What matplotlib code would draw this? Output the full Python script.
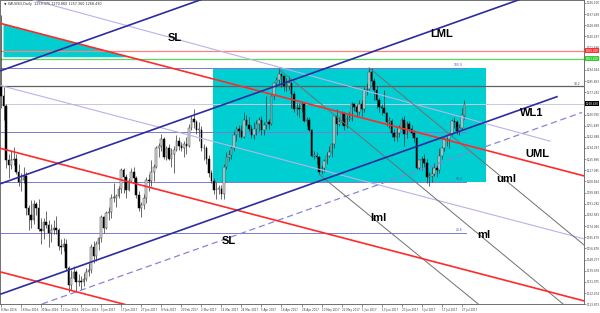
import numpy as np
import matplotlib
matplotlib.use("Agg")
import matplotlib.pyplot as plt
from matplotlib.patches import Rectangle, Polygon
import matplotlib.transforms as mtransforms

# ---------------- data (XAUUSD daily, bar 0 = 8 Nov 2016) ----------------
opens = [1281, 1274, 1267, 1225, 1221, 1225, 1226, 1216, 1208, 1210, 1213, 1188, 1183, 1179, 1191, 1188, 1172,
         1170, 1177, 1175, 1169, 1171, 1173, 1171, 1159, 1158, 1160, 1142, 1129, 1134, 1139, 1131, 1132, 1131, 1133, 1139, 1140, 1158,
         1151, 1160, 1165, 1181, 1173, 1184, 1185, 1196, 1196, 1197, 1203, 1217, 1212, 1202, 1209, 1216, 1211, 1198, 1188, 1190, 1196,
         1210, 1209, 1216, 1220, 1234, 1236, 1241, 1227, 1234, 1226, 1230, 1233, 1240, 1236, 1234, 1237, 1236, 1250, 1257, 1254,
         1248, 1248, 1234, 1234, 1226, 1215, 1209, 1202, 1203, 1203, 1199, 1220, 1227, 1229, 1234, 1244, 1249, 1247, 1243, 1256, 1252, 1249, 1244,
         1249, 1253, 1256, 1248, 1252, 1254, 1253, 1274, 1284, 1287, 1291, 1290, 1282, 1282, 1284, 1276, 1264, 1265, 1264,
         1268, 1255, 1256, 1248, 1228, 1228, 1227, 1216, 1219, 1224, 1228, 1231, 1237, 1259, 1253, 1254, 1261, 1251, 1257, 1257, 1268, 1266, 1262,
         1268, 1264, 1279, 1280, 1293, 1286, 1279, 1271, 1266, 1265, 1261, 1254, 1255, 1246, 1243, 1246, 1250, 1256, 1245, 1253, 1249, 1246,
         1242, 1219, 1225, 1226, 1223, 1212, 1213, 1214, 1219, 1217, 1228, 1234, 1241, 1241, 1245, 1255, 1254, 1247, 1250, 1259]
highs = [1337, 1281, 1268, 1230, 1232, 1235, 1230, 1222, 1215, 1220, 1216, 1190, 1194, 1194, 1193, 1195, 1180,
         1180, 1186, 1179, 1176, 1179, 1182, 1173, 1164, 1165, 1164, 1143, 1140, 1143, 1140, 1137, 1136, 1138, 1142, 1146, 1160, 1163,
         1163, 1166, 1183, 1182, 1186, 1189, 1199, 1207, 1199, 1205, 1219, 1219, 1214, 1211, 1219, 1220, 1213, 1201, 1193, 1199, 1212,
         1214, 1225, 1222, 1236, 1238, 1245, 1243, 1236, 1237, 1234, 1236, 1244, 1243, 1239, 1240, 1243, 1253, 1259, 1264, 1256,
         1254, 1251, 1237, 1236, 1229, 1217, 1211, 1208, 1206, 1206, 1222, 1231, 1233, 1236, 1247, 1251, 1252, 1252, 1262, 1260, 1258, 1252, 1254,
         1256, 1258, 1259, 1254, 1274, 1257, 1275, 1285, 1289, 1296, 1292, 1290, 1288, 1290, 1285, 1278, 1269, 1269, 1270,
         1270, 1258, 1258, 1249, 1232, 1231, 1228, 1221, 1226, 1231, 1236, 1238, 1260, 1264, 1258, 1263, 1262, 1260, 1262, 1270, 1269, 1268, 1271,
         1271, 1281, 1284, 1296, 1296, 1288, 1282, 1273, 1268, 1279, 1262, 1258, 1257, 1249, 1250, 1252, 1258, 1259, 1255, 1255, 1252, 1248,
         1243, 1225, 1228, 1230, 1226, 1216, 1220, 1223, 1221, 1234, 1235, 1243, 1243, 1246, 1257, 1258, 1256, 1253, 1265, 1271]
lows = [1265, 1256, 1219, 1211, 1218, 1221, 1214, 1205, 1201, 1207, 1183, 1171, 1173, 1176, 1183, 1170, 1160,
        1164, 1173, 1158, 1162, 1168, 1168, 1156, 1153, 1155, 1140, 1123, 1125, 1133, 1124, 1128, 1125, 1128, 1132, 1136, 1138, 1146,
        1147, 1156, 1162, 1169, 1172, 1179, 1180, 1193, 1189, 1196, 1200, 1200, 1196, 1201, 1208, 1208, 1196, 1186, 1181, 1187, 1192,
        1201, 1205, 1209, 1219, 1227, 1232, 1226, 1225, 1225, 1220, 1215, 1232, 1233, 1232, 1227, 1230, 1235, 1248, 1250, 1245,
        1240, 1232, 1225, 1222, 1212, 1207, 1199, 1195, 1199, 1195, 1195, 1218, 1224, 1226, 1232, 1240, 1243, 1242, 1242, 1251, 1247, 1242, 1241,
        1244, 1247, 1244, 1244, 1249, 1249, 1252, 1271, 1281, 1283, 1281, 1278, 1278, 1279, 1265, 1262, 1260, 1258, 1262,
        1254, 1251, 1247, 1227, 1226, 1222, 1214, 1214, 1216, 1222, 1227, 1227, 1234, 1244, 1251, 1252, 1248, 1250, 1255, 1255, 1263, 1258, 1260,
        1259, 1262, 1275, 1279, 1282, 1271, 1265, 1262, 1260, 1261, 1251, 1250, 1243, 1240, 1240, 1243, 1248, 1236, 1242, 1247, 1244, 1239,
        1218, 1217, 1217, 1220, 1207, 1205, 1208, 1213, 1212, 1215, 1226, 1232, 1236, 1234, 1244, 1250, 1245, 1244, 1248, 1257]
closes = [1274, 1267, 1225, 1221, 1225, 1226, 1216, 1208, 1210, 1213, 1188, 1183, 1179, 1191, 1188, 1172, 1170,
          1177, 1175, 1169, 1171, 1173, 1171, 1159, 1158, 1160, 1142, 1129, 1134, 1139, 1131, 1132, 1131, 1133, 1139, 1140, 1158, 1151,
          1160, 1165, 1181, 1173, 1184, 1185, 1196, 1196, 1197, 1203, 1217, 1212, 1202, 1209, 1216, 1211, 1198, 1188, 1190, 1196, 1210,
          1209, 1216, 1220, 1234, 1236, 1241, 1227, 1234, 1226, 1230, 1233, 1240, 1236, 1234, 1237, 1236, 1250, 1257, 1254, 1248,
          1248, 1234, 1234, 1226, 1215, 1209, 1202, 1203, 1203, 1199, 1220, 1227, 1229, 1234, 1244, 1249, 1247, 1243, 1256, 1252, 1249, 1244, 1249,
          1253, 1256, 1248, 1252, 1254, 1253, 1274, 1284, 1287, 1291, 1290, 1282, 1282, 1284, 1276, 1264, 1265, 1264, 1268,
          1255, 1256, 1248, 1228, 1228, 1227, 1216, 1219, 1224, 1228, 1231, 1237, 1259, 1253, 1254, 1261, 1251, 1257, 1257, 1268, 1266, 1262, 1268,
          1264, 1279, 1280, 1293, 1286, 1279, 1271, 1266, 1265, 1261, 1254, 1255, 1246, 1243, 1246, 1250, 1256, 1245, 1253, 1249, 1246, 1242,
          1219, 1225, 1226, 1223, 1212, 1213, 1214, 1219, 1217, 1228, 1234, 1241, 1241, 1245, 1255, 1254, 1247, 1250, 1260, 1268.4]

date_labels = ["8 Nov 2016", "18 Nov 2016", "30 Nov 2016", "12 Dec 2016", "22 Dec 2016", "5 Jan 2017",
               "17 Jan 2017", "27 Jan 2017", "8 Feb 2017", "20 Feb 2017", "2 Mar 2017", "14 Mar 2017",
               "24 Mar 2017", "5 Apr 2017", "18 Apr 2017", "28 Apr 2017", "10 May 2017", "22 May 2017",
               "1 Jun 2017", "13 Jun 2017", "23 Jun 2017", "5 Jul 2017", "17 Jul 2017", "27 Jul 2017"]
date_bars = [0, 8, 16, 24, 32, 40, 48, 56, 64, 72, 80, 88, 96, 104, 112, 120, 128, 136, 144, 152, 160, 168, 176, 184]

# trend lines: (bar0, price0, bar1, price1)
red_lines = [(0, 1330.2, 233, 1212.7), (0, 1233.9, 233, 1116.4), (0, 1138.7, 233, 1021.2)]
blue_lines = [(0, 1293.9, 233, 1453.4), (0, 1206.9, 233, 1366.4), (0, 1121.8, 222, 1273.8)]
dashed_line = (16.4, 1114.1, 232, 1261.7)
purple_lines = [(12.8, 1348.3, 219.2, 1239.6), (0, 1282.3, 232.8, 1164.3)]
gray_lines = [(147, 1296.0, 232.8, 1159.6), (111, 1295.0, 224.4, 1114.2), (127, 1214.0, 190.5, 1114.2)]

red_level = 1309.3
green_level = 1303.1
gray_level = 1281.8
bid = 1268.43
fibo_levels = [1296.0, 1246.9, 1208.2, 1168.9]
fibo_names = ["100.0", "61.8", "50.0", "23.6"]
fibo_end = 185.7

box_bars = (84.7, 193.7)
box_prices = (1208.2, 1296.0)
tri_pts = [(1, 1329.7), (51.6, 1304.2), (1, 1304.2)]

tags = [("SL", 69.5, 1319.0), ("LML", 176.1, 1322.1), ("WL1", 212.1, 1261.3), ("UML", 214.1, 1229.7),
        ("uml", 201.7, 1210.5), ("ml", 192.9, 1167.4), ("lml", 150.6, 1180.4), ("SL", 91.1, 1162.7)]

price_ticks = np.arange(1346.100, 1110, -8.601)

# ---------------- plot ----------------
fig = plt.figure(figsize=(6, 3.13), dpi=100)
ax = fig.add_axes([0, 1 - 304.3 / 313, 584 / 600, 304.3 / 313])
ax.set_xlim(-0.4, 232.8)
ax.set_ylim(1114.0, 1348.3)

# background objects
ax.add_patch(Rectangle((box_bars[0], box_prices[0]), box_bars[1] - box_bars[0], box_prices[1] - box_prices[0],
                       facecolor="#00ced1", edgecolor="none", zorder=1))
ax.add_patch(Polygon(tri_pts, closed=True, facecolor="#00ced1", edgecolor="none", zorder=1))

# horizontal levels
ax.axhline(red_level, color="#ff8080", lw=0.9, zorder=2)
ax.axhline(green_level, color="#5cd65c", lw=0.9, zorder=2)
ax.axhline(gray_level, color="#606060", lw=0.9, zorder=2)
ax.axhline(bid, color="#c8c8d8", lw=0.7, zorder=2)
for lv, nm in zip(fibo_levels, fibo_names):
    ax.plot([-1, fibo_end], [lv, lv], color="#7b7bd0", lw=0.7, zorder=2)
    ax.text(fibo_end - 1.5, lv + 0.4, nm, fontsize=2.2, color="#5050b0", ha="right", va="bottom", zorder=6)
ax.text(231.5, gray_level + 0.4, "38.2", fontsize=2.2, color="#404040", ha="right", va="bottom", zorder=6)

# candles
x = np.arange(len(closes))
o = np.array(opens, float)
h = np.array(highs, float)
l = np.array(lows, float)
c = np.array(closes, float)
up = c >= o
ax.vlines(x, l, h, color="#303030", lw=0.5, zorder=3)
body = np.where(np.abs(c - o) < 0.6, 0.6, np.abs(c - o))
ax.bar(x[up], body[up], bottom=np.minimum(o, c)[up], width=0.62, color="#dcdcdc",
       edgecolor="#404040", lw=0.35, zorder=4)
ax.bar(x[~up], body[~up], bottom=np.minimum(o, c)[~up], width=0.62, color="black",
       edgecolor="black", lw=0.35, zorder=4)

# trend lines
for b0, p0, b1, p1 in purple_lines:
    ax.plot([b0, b1], [p0, p1], color="#b4b4ea", lw=0.8, zorder=5)
b0, p0, b1, p1 = dashed_line
ax.plot([b0, b1], [p0, p1], color="#8585d8", lw=0.9, ls=(0, (5, 3)), zorder=5)
for b0, p0, b1, p1 in gray_lines:
    ax.plot([b0, b1], [p0, p1], color="#707070", lw=0.7, zorder=5)
for b0, p0, b1, p1 in red_lines:
    ax.plot([b0, b1], [p0, p1], color="#ff2a2a", lw=1.2, zorder=5)
for b0, p0, b1, p1 in blue_lines:
    ax.plot([b0, b1], [p0, p1], color="#2c2ca0", lw=1.2, zorder=5)

for txt, bx, py in tags:
    ax.text(bx, py, txt, fontsize=8, fontweight="bold", family="Liberation Sans",
            ha="center", va="center", color="black", zorder=7)

ax.text(0.006, 0.993, "\u25bc XAUUSD,Daily  1259.375 1270.860 1257.360 1268.430", transform=ax.transAxes,
        fontsize=2.4, color="#303030", ha="left", va="top", zorder=8)

# axes
for s in ax.spines.values():
    s.set_color("#707070")
    s.set_linewidth(0.7)
ax.yaxis.tick_right()
ax.set_yticks(price_ticks)
ax.set_yticklabels([f"{v:.3f}" for v in price_ticks])
ax.tick_params(axis="y", labelsize=2.0, length=1.2, width=0.4, pad=0.5, colors="#404040")
ax.set_xticks(date_bars)
ax.set_xticklabels(date_labels, ha="left")
ax.tick_params(axis="x", labelsize=2.0, length=2, width=0.4, pad=0.6, colors="#404040")

# price boxes on the axis
trans = mtransforms.blended_transform_factory(ax.transAxes, ax.transData)
for lv, fc in [(red_level, "#ff3030"), (green_level, "#33cc33"), (bid, "black")]:
    ax.text(1.003, lv, f"{lv:.3f}", transform=trans, fontsize=2.0, color="white", ha="left", va="center",
            bbox=dict(boxstyle="square,pad=0.12", fc=fc, ec="none"), zorder=9, clip_on=False)

fig.savefig("out.png", dpi=100)
